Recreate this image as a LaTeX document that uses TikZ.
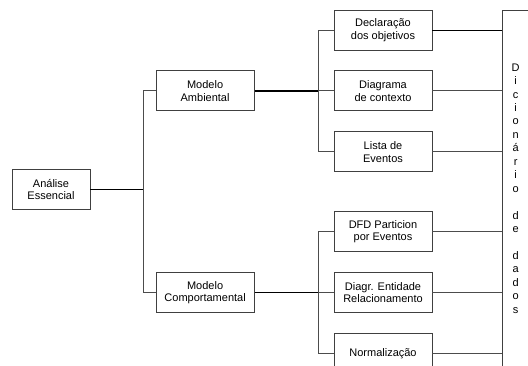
\documentclass[tikz,border=0pt]{standalone}
\usepackage{fontspec}
\setmainfont{Liberation Sans}
\usepackage{tikz}
\usetikzlibrary{positioning}

\begin{document}
\begin{tikzpicture}[
    x=1pt, y=-1pt,
    process/.style={rectangle, draw=black!75, line width=0.9pt, minimum height=40pt, minimum width=98pt, align=center, fill=white, inner sep=1pt},
    stem/.style={line width=1.3pt, black},
    link/.style={line width=0.9pt, black!70},
    dict/.style={rectangle, draw=black!75, line width=0.9pt, minimum width=27.4pt, minimum height=357pt, align=center, font=\fontsize{11}{13.45}\selectfont},
    node distance=20pt,
    every node/.append style={font=\fontsize{11}{12.65}\selectfont}
]
    \clip (0,0) rectangle (528,365);
    % Processes
    \node[process, minimum width=78pt] (analise) at (51,189.5) {Análise\\Essencial};
    \node[process] (decl) at (383,30) {Declaração\\dos objetivos};
    \node[process, below=of decl] (diag) {Diagrama\\de contexto};
    \node[process, below=of diag] (lista) {Lista de\\Eventos};
    \node[process, below=39pt of lista] (dfd) {DFD Particion\\por Eventos};
    \node[process, below=of dfd] (der) {Diagr. Entidade\\Relacionamento};
    \node[process, below=of der] (norm) {Normalização};
    \node[process, left=79pt of diag] (amb) {Modelo\\Ambiental};
    \node[process, left=79pt of der] (comp) {Modelo\\Comportamental};
    \node[dict] (dic) at (515.7,188.5) {D\\i\\c\\i\\o\\n\\á\\r\\i\\o\\[13.45pt]d\\e\\[13.45pt]d\\a\\d\\o\\s};

    % Flow
    \draw[stem] (analise.east) -- ++(53,0) coordinate (ae);
    \draw[link] (ae) |- (amb.west);
    \draw[link] (ae) |- (comp.west);
    \draw[stem] (amb.east) -- ++(64,0) coordinate (am);
    \draw[link] (am) |- (decl.west);
    \draw[link] (am) -- (diag.west);
    \draw[link] (am) |- (lista.west);
    \draw[stem] (comp.east) -- ++(64,0) coordinate (co);
    \draw[link] (co) |- (dfd.west);
    \draw[link] (co) -- (der.west);
    \draw[link] (co) |- (norm.west);

    % Dictionary
    \draw[stem, line width=0.9pt] (decl.east) -- (decl.east -| dic.west);
    \draw[link] (diag.east) -- (diag.east -| dic.west);
    \draw[link] (lista.east) -- (lista.east -| dic.west);
    \draw[link] (dfd.east) -- (dfd.east -| dic.west);
    \draw[link] (der.east) -- (der.east -| dic.west);
    \draw[link] (norm.east) -- (norm.east -| dic.west);
\end{tikzpicture}
\end{document}
